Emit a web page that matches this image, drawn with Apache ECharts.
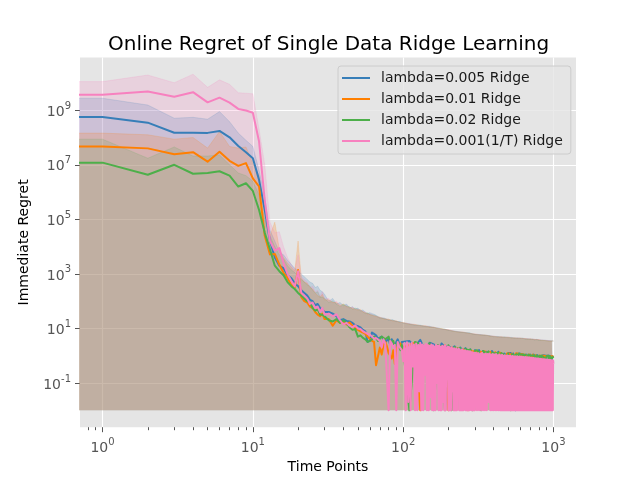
<!DOCTYPE html>
<html>
<head>
<meta charset="utf-8">
<script src="https://cdn.jsdelivr.net/npm/echarts@6/dist/echarts.min.js"></script>
<style>html,body{margin:0;background:#fff}#chart{width:640px;height:480px}</style>
</head>
<body>
<div id="chart"></div>
<script>
// time points (0..1000), sampled
function range(a, b, step) { var r = []; for (var t = a; t <= b; t += step) r.push(t); return r; }
var tHead = range(0, 30, 1);
var tMid = range(32, 100, 2);
var tTail = range(110, 1000, 10);
var tPinkTail = range(102, 300, 2).concat(range(305, 1000, 5));
var tBand = range(0, 30, 1).concat(range(32, 60, 2), range(65, 100, 5), range(110, 200, 10), range(225, 1000, 25));

var names = ['lambda=0.005 Ridge', 'lambda=0.01 Ridge', 'lambda=0.02 Ridge', 'lambda=0.001(1/T) Ridge'];
var colors = ['#377eb8', '#ff7f00', '#4daf4a', '#f781bf'];

var xMajorTicks = [1, 10, 100, 1000];
var xMinorTicks = [0.8, 0.9, 2, 3, 4, 5, 6, 7, 8, 9, 20, 30, 40, 50, 60, 70, 80, 90, 200, 300, 400, 500, 600, 700, 800, 900];
var yTicks = [0.1, 10, 1e3, 1e5, 1e7, 1e9];
var bandLow = 0.01;

// mean regret
var blueHead = [5.6e8, 5.6e8, 3.5e8, 1.5e8, 1.5e8, 1.48e8, 1.74e8, 1.02e8, 4.9e7, 2.9e7, 1.74e7, 2.8e6, 2.2e5, 1.6e4, 4000, 2000, 1600, 890, 710, 450, 355, 250, 200, 160, 112, 100, 71, 79, 56, 50, 40];
var orangeHead = [4.7e7, 4.7e7, 4.0e7, 2.45e7, 2.9e7, 1.3e7, 3.0e7, 1.4e7, 9.1e6, 1.15e7, 3.2e6, 1.6e6, 2.5e4, 5200, 5400, 2200, 1100, 710, 400, 320, 1400, 140, 100, 89, 63, 56, 40, 32, 28, 35, 22];
var greenHead = [1.2e7, 1.2e7, 4.3e6, 1.0e7, 4.7e6, 5.0e6, 5.8e6, 4.0e6, 1.6e6, 2.1e6, 1.1e6, 2.2e5, 3.2e4, 7900, 2000, 1260, 890, 500, 355, 280, 200, 160, 126, 100, 89, 56, 45, 50, 32, 32, 28];
var pinkHead = [3.7e9, 3.7e9, 4.9e9, 3.1e9, 4.6e9, 1.95e9, 2.9e9, 1.9e9, 1.12e9, 9.8e8, 8.1e8, 7.1e7, 5.0e5, 1.6e4, 7100, 8900, 2500, 1000, 560, 355, 1260, 200, 160, 126, 79, 89, 56, 63, 40, 56, 32];

var blueMid = [40, 35, 28, 20, 22, 19, 18, 16, 13, 12, 11, 8.9, 7.9, 3.2, 3.5, 7.1, 6.3, 5.6, 4.2, 4.0, 5.0, 4.5, 3.2, 3.5, 4.2, 2.5, 4.0, 3.5, 2.2, 3.2, 4.0, 2.8, 2.0, 3.2, 2.8];
var orangeMid = [22, 12.6, 20, 16, 18, 14, 16.6, 12.6, 10, 8.9, 7.9, 7.1, 6.3, 5.0, 4.2, 3.5, 3.2, 0.45, 0.4, 2.0, 1.1, 2.5, 3.2, 2.2, 1.26, 1.0, 0.8, 1.6, 0.5, 1.8, 2.5, 2.0, 2.8, 1.6, 2.0];
var greenMid = [20, 18, 22, 16, 20, 16, 11, 8.9, 9.5, 5.0, 5.6, 4.5, 4.0, 3.2, 3.5, 4.0, 5.0, 4.5, 3.5, 4.0, 5.0, 5.6, 4.0, 3.5, 5.0, 3.2, 2.8, 3.5, 2.0, 2.5, 3.2, 2.2, 1.6, 2.5, 2.0];
var pinkMid = [35, 28, 33, 20, 14, 16, 12.6, 11, 13, 10, 9.5, 7.9, 7.1, 6.3, 6.0, 5.0, 4.2, 4.5, 5.2, 3.5, 2.0, 4.0, 2.8, 3.2, 0.01, 3.5, 2.8, 2.0, 2.5, 0.01, 3.2, 2.2, 2.6, 1.6, 0.63];

var blueTail = [3.5, 2.2, 3.8, 1.5, 3.0, 2.6, 0.9, 2.8, 2.0, 2.3,
  1.8, 2.2, 0.6, 2.0, 1.5, 1.9, 1.2, 1.7, 0.3, 1.6,
  1.4, 1.6, 1.1, 1.5, 0.8, 1.4, 1.3, 0.5, 1.5, 1.2,
  1.3, 0.9, 1.4, 1.1, 1.3, 0.7, 1.2, 1.3, 1.0, 1.25,
  1.1, 1.25, 0.8, 1.2, 1.15, 0.01, 1.2, 0.9, 1.2, 1.1,
  1.15, 0.7, 1.1, 1.15, 0.9, 1.1, 1.0, 1.15, 0.6, 1.1,
  1.1, 1.05, 0.8, 1.1, 1.0, 1.08, 0.5, 1.05, 1.0, 1.1,
  0.9, 1.05, 1.0, 0.7, 1.05, 1.0, 0.95, 1.03, 0.4, 1.0,
  1.0, 0.9, 1.02, 0.8, 0.98, 1.0, 0.6, 0.95, 1.0, 0.9];
var orangeTail = [2.5, 3.0, 0.01, 2.0, 2.6, 0.3, 2.2, 1.8, 2.4, 0.01,
  2.0, 1.6, 1.9, 0.2, 1.7, 1.5, 0.01, 1.6, 1.4, 1.5,
  1.5, 1.2, 1.4, 0.6, 1.45, 1.3, 1.0, 1.4, 1.2, 0.9,
  1.35, 1.2, 0.8, 1.3, 1.25, 1.1, 1.3, 0.4, 1.2, 1.25,
  1.2, 1.0, 1.2, 1.15, 0.7, 1.2, 1.1, 1.2, 0.9, 1.15,
  1.1, 1.15, 0.5, 1.1, 1.12, 1.0, 1.1, 0.8, 1.1, 1.05,
  1.05, 0.9, 1.1, 1.0, 0.6, 1.05, 1.0, 1.02, 0.85, 1.0,
  1.02, 0.95, 0.7, 1.0, 1.02, 0.9, 1.0, 0.5, 0.98, 1.0,
  0.95, 1.0, 0.9, 0.98, 0.7, 0.95, 0.97, 0.85, 0.95, 0.9];
var greenTail = [0.01, 3.2, 2.6, 0.5, 2.9, 0.01, 2.5, 2.2, 0.01, 2.4,
  0.01, 2.1, 1.8, 1.9, 0.4, 1.8, 1.6, 1.7, 0.01, 1.5,
  1.6, 1.3, 0.01, 1.5, 1.4, 1.2, 1.45, 0.7, 1.3, 1.4,
  1.2, 1.35, 1.3, 0.6, 1.25, 1.3, 1.1, 1.2, 0.9, 1.2,
  1.2, 0.01, 1.15, 1.2, 1.0, 1.1, 1.15, 0.6, 1.2, 1.1,
  1.1, 1.05, 1.12, 0.8, 1.1, 1.0, 0.5, 1.1, 1.05, 1.1,
  1.0, 1.08, 0.9, 1.05, 1.0, 0.7, 1.05, 1.0, 1.02, 0.8,
  1.0, 0.6, 1.02, 0.98, 1.0, 0.9, 1.0, 0.95, 0.7, 0.98,
  0.96, 0.92, 0.98, 0.6, 0.95, 0.9, 0.97, 0.8, 0.92, 0.95];
var pinkTail = [2.9, 0.01, 3.1, 0.02, 2.7, 0.01, 3.0, 0.4, 2.6, 0.01,
  2.8, 0.01, 2.5, 0.05, 2.9, 0.01, 2.6, 0.01, 2.4, 0.2,
  2.7, 0.01, 2.5, 0.01, 2.3, 0.03, 2.6, 0.01, 2.4, 0.01,
  2.2, 0.01, 2.5, 0.1, 2.3, 0.01, 2.4, 0.01, 2.1, 0.01,
  2.3, 0.02, 2.2, 0.01, 2.4, 0.01, 2.0, 0.3, 2.2, 0.01,
  2.1, 0.01, 1.9, 0.01, 2.0, 0.05, 1.8, 0.01, 1.9, 0.01,
  1.7, 0.01, 1.9, 0.01, 1.6, 0.2, 1.8, 0.01, 1.7, 0.01,
  1.5, 0.01, 1.7, 0.01, 1.6, 0.01, 1.4, 0.04, 1.6, 0.01,
  1.5, 0.01, 1.4, 0.01, 1.5, 0.01, 1.3, 0.01, 1.45, 0.1,
  1.4, 0.01, 1.3, 0.01, 1.35, 0.01, 1.25, 0.01, 1.3, 0.01,
  1.3, 0.01, 1.25, 0.01, 1.2, 0.01, 1.3, 0.01, 1.15, 0.01,
  1.2, 0.01, 1.15, 0.02, 1.2, 0.01, 1.1, 0.01, 1.15, 0.01,
  1.1, 0.01, 1.15, 0.01, 1.05, 0.01, 1.1, 0.01, 1.05, 0.01,
  1.08, 0.01, 1.0, 0.01, 1.05, 0.01, 1.0, 0.01, 1.02, 0.01,
  0.98, 0.01, 1.0, 0.01, 0.95, 0.01, 0.98, 0.01, 0.93, 0.01,
  0.95, 0.01, 0.92, 0.01, 0.95, 0.01, 0.9, 0.01, 0.93, 0.01,
  0.9, 0.01, 0.92, 0.01, 0.88, 0.01, 0.9, 0.01, 0.87, 0.01,
  0.89, 0.01, 0.85, 0.01, 0.88, 0.01, 0.84, 0.01, 0.86, 0.01,
  0.83, 0.01, 0.85, 0.01, 0.8, 0.01, 0.83, 0.01, 0.79, 0.01,
  0.81, 0.01, 0.78, 0.01, 0.8, 0.01, 0.77, 0.01, 0.79, 0.01,
  0.76, 0.01, 0.78, 0.01, 0.75, 0.01, 0.76, 0.01, 0.73, 0.01,
  0.75, 0.01, 0.72, 0.01, 0.74, 0.01, 0.71, 0.01, 0.73, 0.01,
  0.7, 0.01, 0.72, 0.01, 0.69, 0.01, 0.71, 0.01, 0.68, 0.01,
  0.7, 0.01, 0.67, 0.01, 0.69, 0.01, 0.66, 0.01, 0.68, 0.5];

// upper edge of the shaded bands (mean + std); lower edge is bandLow
var blueBand = [2.75e9, 2.75e9, 1.55e9, 5.1e8, 5.5e8, 4.7e8, 8.9e8, 3.8e8, 1.45e8, 7.9e7, 4.7e7, 6.3e6, 6.3e5, 4.0e4, 1.6e4, 6300, 5000, 3200, 2240, 1600, 1260, 1000, 790, 630, 500, 450, 316, 355, 250, 224, 178,
  100, 126, 79, 89, 71, 79, 56, 63, 52, 56, 45, 48, 40, 35, 38,
  32, 25, 24, 20, 21, 18, 18, 16,
  15.1, 13.2, 13.2, 12, 12, 10.7, 10.5, 9.5, 9.5, 8.7,
  7.9, 7.2, 6.9, 6.1, 6.0, 5.6, 5.5, 5.1, 5.1, 4.9, 4.9, 4.7, 4.7, 4.5, 4.5, 4.4, 4.4, 4.2, 4.2, 4.1, 4.1, 3.9, 4.0, 3.8, 3.8, 3.7, 3.7, 3.6, 3.6, 3.5, 3.55, 3.45];
var orangeBand = [1.45e8, 1.45e8, 1.26e8, 8.7e7, 1.0e8, 4.1e7, 1.66e8, 4.7e7, 4.1e7, 4.5e7, 1.15e7, 4.0e6, 1.0e5, 2.5e4, 7.9e4, 7900, 4000, 2500, 1780, 1260, 1.6e4, 710, 500, 450, 316, 280, 200, 158, 141, 178, 112,
  112, 89, 89, 71, 79, 63, 60, 56, 50, 48, 50, 40, 38, 35, 32,
  28, 26, 22, 22, 19, 19, 16.6, 16.6,
  14.5, 14.1, 12.6, 12.6, 11.2, 11.2, 10, 10, 9.1, 8.9,
  7.6, 7.4, 6.6, 6.3, 5.8, 5.8, 5.3, 5.2, 4.9, 5.0, 4.7, 4.8, 4.5, 4.6, 4.4, 4.5, 4.3, 4.3, 4.1, 4.2, 4.0, 4.0, 3.9, 3.9, 3.7, 3.8, 3.6, 3.7, 3.5, 3.6, 3.45, 3.5];
var greenBand = [8.7e7, 8.7e7, 1.74e7, 4.5e7, 2.1e7, 2.1e7, 2.3e7, 1.0e7, 5.0e6, 4.0e6, 2.5e6, 7.9e5, 1.0e5, 2.5e4, 1.0e4, 5000, 3550, 2000, 1410, 1120, 790, 630, 500, 400, 355, 250, 200, 224, 141, 141, 126,
  89, 100, 79, 63, 76, 66, 63, 50, 56, 50, 45, 42, 35, 38, 33,
  30, 24, 23, 21, 20, 18.2, 17.4, 16,
  14.1, 13.5, 12.9, 11.7, 11.5, 11, 10.2, 9.8, 9.3, 8.5,
  7.7, 7.1, 6.8, 6.0, 5.9, 5.7, 5.4, 5.0, 5.0, 4.8, 4.8, 4.6, 4.6, 4.4, 4.4, 4.3, 4.3, 4.1, 4.1, 4.0, 4.0, 3.8, 3.9, 3.7, 3.7, 3.6, 3.6, 3.5, 3.5, 3.4, 3.5, 3.4];
var pinkBand = [1.12e10, 1.12e10, 1.95e10, 1.02e10, 2.1e10, 6.9e9, 1.3e10, 8.9e9, 4.4e9, 4.2e9, 4.0e9, 2.0e8, 1.0e7, 7.9e4, 3.2e4, 3.5e4, 1.0e4, 4000, 2240, 1410, 5000, 790, 630, 500, 316, 355, 224, 250, 158, 224, 126,
  126, 89, 100, 71, 63, 71, 56, 60, 50, 52, 46, 43, 40, 33, 35,
  29, 25, 23.4, 21.4, 19.5, 18.6, 17, 16.2,
  14.8, 13.8, 12.6, 12.3, 11.7, 11, 10.5, 9.5, 9.3, 8.9,
  7.8, 7.3, 6.7, 6.2, 6.0, 5.7, 5.5, 5.2, 5.0, 4.9, 4.8, 4.8, 4.6, 4.5, 4.5, 4.4, 4.3, 4.3, 4.2, 4.1, 4.1, 4.0, 3.9, 3.9, 3.8, 3.7, 3.7, 3.6, 3.6, 3.5, 3.5, 3.5];

var tLine = tHead.concat(tMid, tTail);
var tPink = tHead.concat(tMid, tPinkTail);
var lines = [
  { t: tLine, v: blueHead.concat(blueMid, blueTail) },
  { t: tLine, v: orangeHead.concat(orangeMid, orangeTail) },
  { t: tLine, v: greenHead.concat(greenMid, greenTail) },
  { t: tPink, v: pinkHead.concat(pinkMid, pinkTail) }
];
var bands = [blueBand, orangeBand, greenBand, pinkBand];

// log10 space; non-positive time is clipped far left like a log axis does
function lx(t) { return t > 0 ? Math.log10(t) : -1000; }
function pairs(ts, vs) {
  var out = [];
  for (var i = 0; i < ts.length && i < vs.length; i++) out.push([lx(ts[i]), Math.log10(vs[i])]);
  return out;
}
function powLabel(v) {
  return '{b|10}{s|' + Math.round(v) + '}';
}
var labelRich = {
  b: { fontSize: 14, color: '#555555', fontFamily: 'DejaVu Sans', lineHeight: 18, verticalAlign: 'bottom' },
  s: { fontSize: 10, color: '#555555', fontFamily: 'DejaVu Sans', lineHeight: 13, verticalAlign: 'top' }
};

var series = [];
bands.forEach(function (b, i) {
  series.push({
    type: 'line', name: 'band' + i, data: pairs(tBand, b), symbol: 'none', silent: true, z: 2,
    lineStyle: { width: 0.8, color: colors[i], opacity: 0.2 },
    areaStyle: { color: colors[i], opacity: 0.2, origin: Math.log10(bandLow) }
  });
});
lines.forEach(function (l, i) {
  series.push({
    type: 'line', name: names[i], data: pairs(l.t, l.v), symbol: 'none', showSymbol: false, z: 3,
    lineStyle: { width: 2, color: colors[i], join: 'round' },
    itemStyle: { color: colors[i] }
  });
});

var chart = echarts.init(document.getElementById('chart'));
chart.setOption({
  animation: false,
  textStyle: { fontFamily: 'DejaVu Sans' },
  title: {
    text: 'Online Regret of Single Data Ridge Learning',
    left: 103, top: 30,
    textStyle: { fontSize: 20, fontWeight: 'normal', color: '#000', fontFamily: 'DejaVu Sans' }
  },
  legend: {
    data: names, orient: 'vertical', left: 338, top: 66,
    icon: 'rect', itemWidth: 28, itemHeight: 2, itemGap: 7,
    backgroundColor: 'rgba(229,229,229,0.8)', borderColor: '#cccccc', borderWidth: 1, borderRadius: 3,
    padding: [5, 8, 6, 4],
    textStyle: { fontSize: 14, color: '#1a1a1a', fontFamily: 'DejaVu Sans', padding: [0, 0, 0, 6] }
  },
  grid: { left: 80, right: 64, top: 57.6, bottom: 52.8, show: true, backgroundColor: '#E5E5E5', borderWidth: 0 },
  xAxis: [{
    type: 'value', min: -0.15, max: 3.15,
    name: 'Time Points', nameLocation: 'middle', nameGap: 32,
    nameTextStyle: { fontSize: 14, color: '#000', fontFamily: 'DejaVu Sans' },
    axisLine: { show: false, onZero: false },
    axisTick: { show: true, customValues: xMajorTicks.map(Math.log10), length: 5, lineStyle: { color: '#555555', width: 1 } },
    axisLabel: { customValues: xMajorTicks.map(Math.log10), formatter: powLabel, rich: labelRich, margin: 10 },
    splitLine: { show: true, lineStyle: { color: '#ffffff', width: 1.1 } }
  }, {
    type: 'value', min: -0.15, max: 3.15, position: 'bottom', offset: 0,
    axisLine: { show: false, onZero: false },
    axisTick: { show: true, customValues: xMinorTicks.map(Math.log10), length: 3, lineStyle: { color: '#555555', width: 1 } },
    axisLabel: { show: false },
    splitLine: { show: false }
  }],
  yAxis: {
    type: 'value', min: -2.62, max: 10.93,
    name: 'Immediate Regret', nameLocation: 'middle', nameGap: 49,
    nameTextStyle: { fontSize: 14, color: '#000', fontFamily: 'DejaVu Sans' },
    axisLine: { show: false, onZero: false },
    axisTick: { show: true, customValues: yTicks.map(Math.log10), length: 5, lineStyle: { color: '#555555', width: 1 } },
    axisLabel: { customValues: yTicks.map(Math.log10), formatter: powLabel, rich: labelRich, margin: 9 },
    splitLine: { show: true, lineStyle: { color: '#ffffff', width: 1.1 } }
  },
  series: series
});
</script>
</body>
</html>
